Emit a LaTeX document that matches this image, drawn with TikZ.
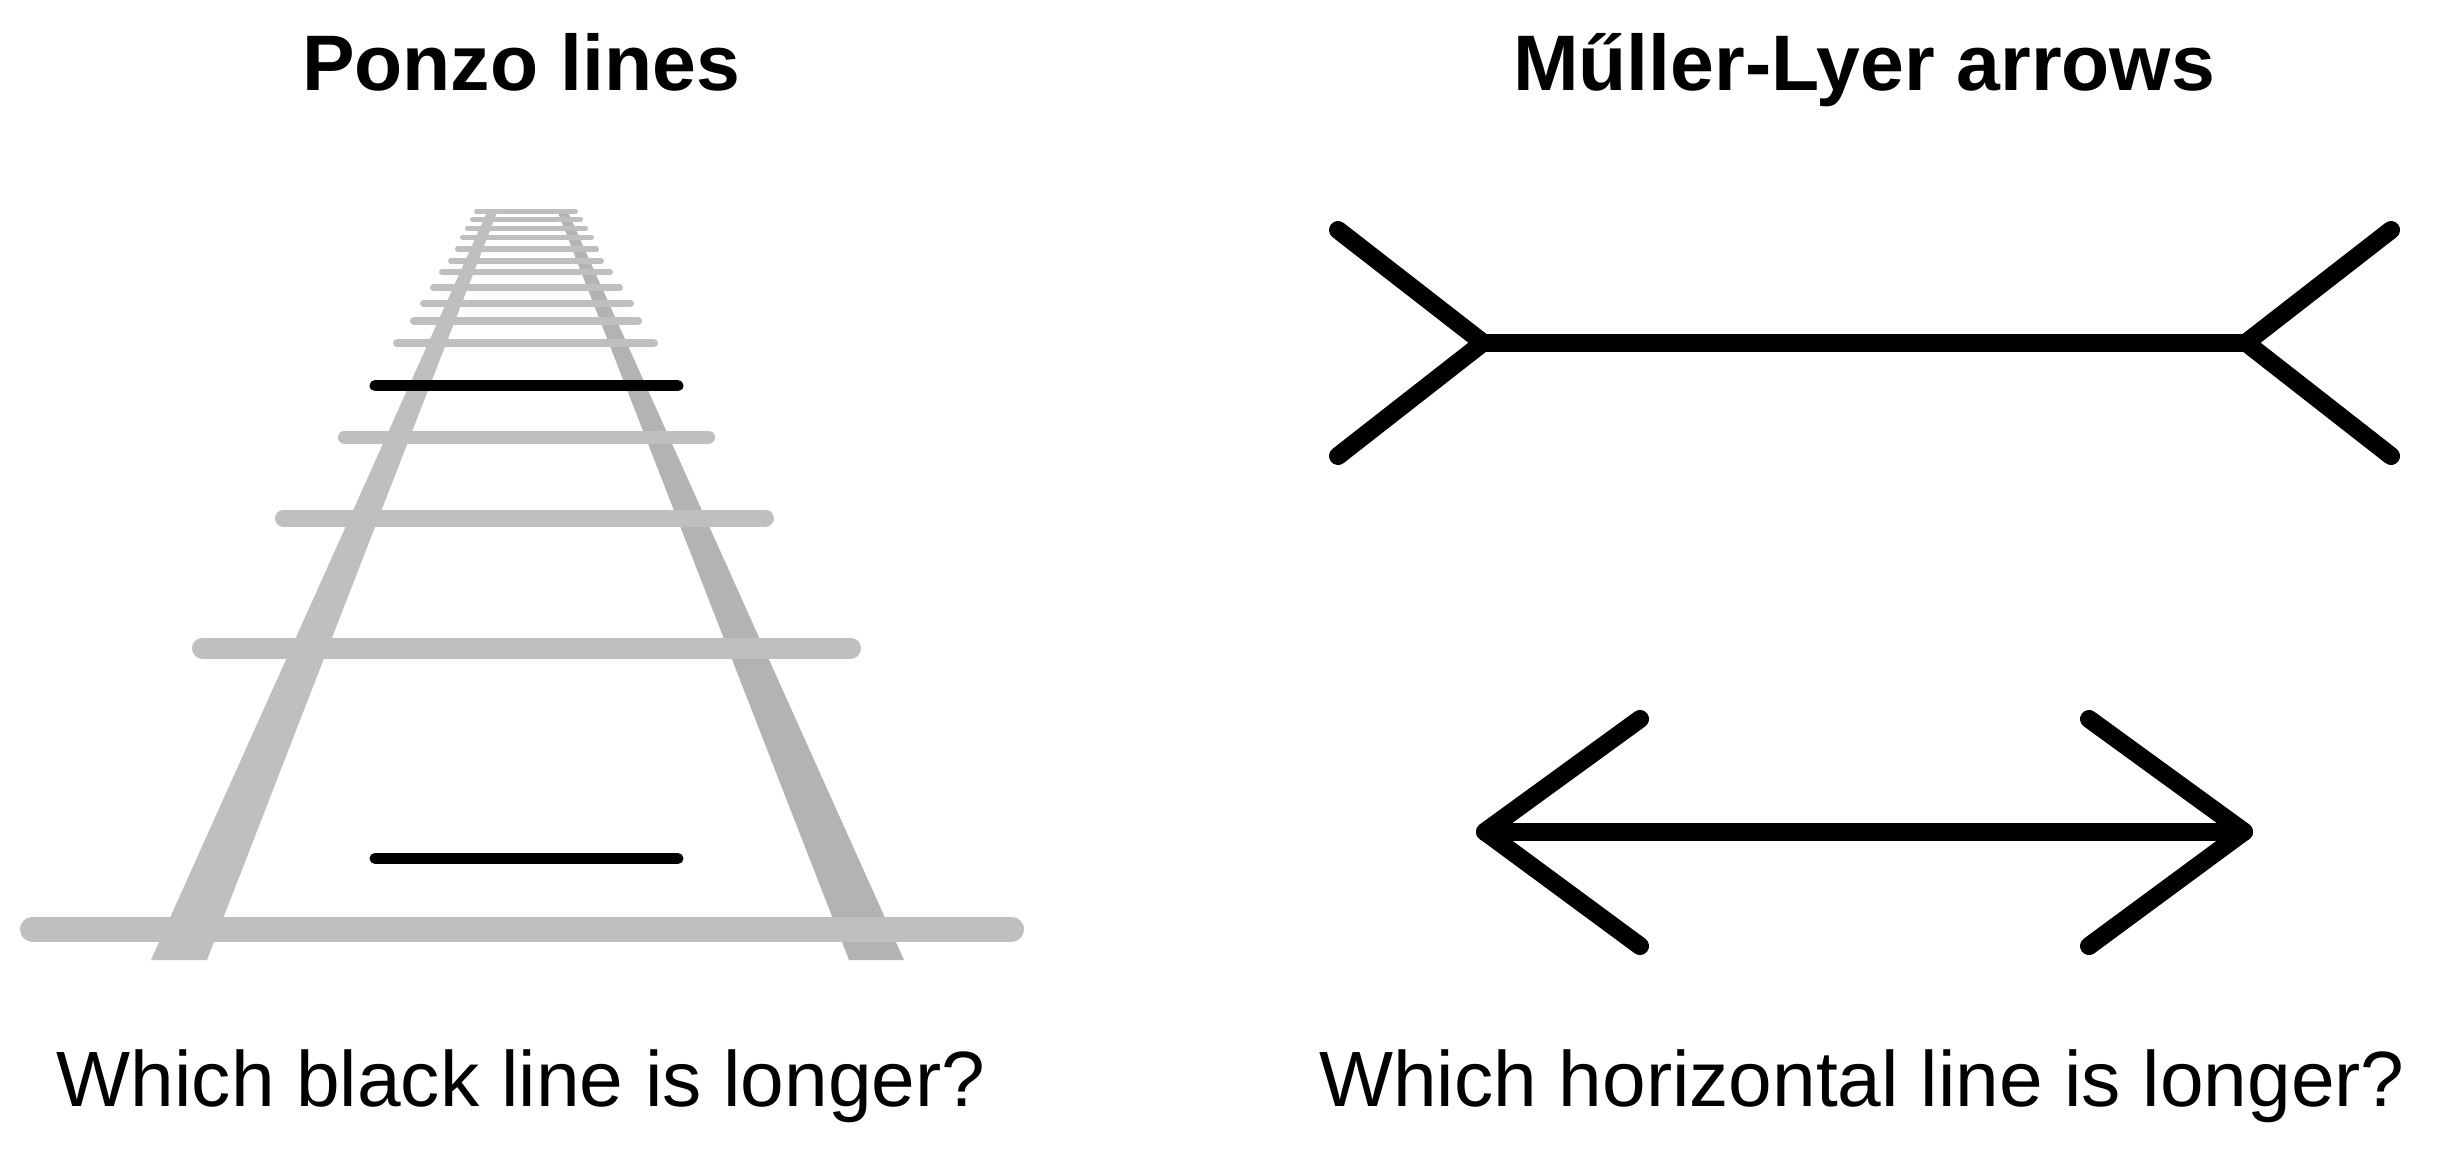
\documentclass[tikz,border=0pt]{standalone}
\usepackage{fontspec}
\setmainfont{Liberation Sans}
\definecolor{tiegray}{RGB}{191,191,191}
\definecolor{railgray}{RGB}{179,179,179}
\begin{document}
\begin{tikzpicture}[x=0.01cm,y=-0.01cm,
  lbl/.style={inner sep=0pt, anchor=base, font=\fontsize{22.3}{26}\selectfont},
  ttl/.style={inner sep=0pt, anchor=base, font=\fontsize{22.4}{26}\selectfont\bfseries},
  tie/.style={draw=tiegray, line cap=round},
  blackbar/.style={draw=black, line cap=round, line width=11*0.2845pt},
  ml/.style={draw=black, line width=18*0.2845pt, line cap=round, line join=round}]
\useasboundingbox (0,0) rectangle (2458,1166);

% rails
\fill[tiegray] (151,960) -- (207,960) -- (498,210) -- (488,210) -- cycle;
\fill[railgray] (849,960) -- (904,960) -- (567,210) -- (557,210) -- cycle;

% ties: y / left extent / right extent / thickness
\foreach \y/\l/\r/\t in {211.7/474/578/5, 219/470/583/5, 228.3/465/588/5,
  237.3/460/594/5.5, 249/455/599/5.5, 260.7/448/604/6, 272.3/439/613/6,
  287.7/430/623/6.5, 303.3/420/634/7, 321/410/642/7.5, 343.3/393/658/8,
  437/338/715/13, 518/275/774/17, 648/192/861/21, 929/20/1024/25}{
  \draw[tie, line width=\t*0.2845pt] ({\l+\t/2},\y) -- ({\r-\t/2},\y);
}

% black lines
\coordinate (b1l) at (375,385.7); \coordinate (b1r) at (678,385.7);
\coordinate (b2l) at (375,858.5); \coordinate (b2r) at (678,858.5);
\draw[blackbar] (b1l) -- (b1r);
\draw[blackbar] (b2l) -- (b2r);

% Mueller-Lyer top (fins outward)
\coordinate (tvl) at (1483,342.7); \coordinate (tvr) at (2246,342.7);
\draw[ml] (tvl) -- (tvr);
\draw[ml] (1338,230) -- (tvl) -- (1338,456);
\draw[ml] (2391,230) -- (tvr) -- (2391,456);

% Mueller-Lyer bottom (fins inward)
\coordinate (bvl) at (1485,831.7); \coordinate (bvr) at (2244,831.7);
\draw[ml] (bvl) -- (bvr);
\draw[ml] (1640,719) -- (bvl) -- (1640,946);
\draw[ml] (2089,719) -- (bvr) -- (2089,946);

% texts
\node[ttl] (t1) at (521,90) {Ponzo lines};
\node[ttl] (t2) at (1864,90) {Műller-Lyer arrows};
\node[lbl] (q1) at (521,1106) {Which black line is longer?};
\node[lbl] (q2) at (1862,1106) {Which horizontal line is longer?};
\end{tikzpicture}
\end{document}
